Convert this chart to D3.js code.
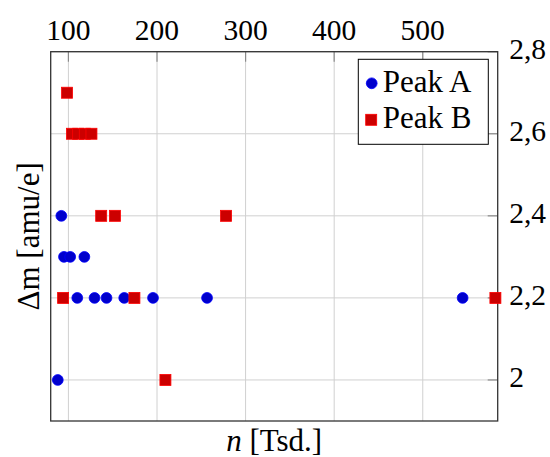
<html>
<head>
<meta charset="utf-8">
<script src="https://cdn.jsdelivr.net/npm/d3@7"></script>
</head>
<body style="margin:0">
<script>
// Peak A (blue circles) and Peak B (red squares): n [Tsd.] vs Δm [amu/e]
const peakAx = [92, 95, 102, 118, 110, 129.5, 143, 163, 195.5, 256.5, 545, 88];
const peakAy = [2.4, 2.3, 2.3, 2.3, 2.2, 2.2, 2.2, 2.2, 2.2, 2.2, 2.2, 2.0];
const peakBx = [98.5, 104, 111, 118.5, 126, 137, 152.5, 278, 94, 174.5, 582, 209.5];
const peakBy = [2.7, 2.6, 2.6, 2.6, 2.6, 2.4, 2.4, 2.4, 2.2, 2.2, 2.2, 2.0];

const xTicks = [100, 200, 300, 400, 500];
const yTicks = [2.0, 2.2, 2.4, 2.6, 2.8];
const seriesNames = ['Peak A', 'Peak B'];

const width = 550, height = 457;
const margin = { top: 51.7, right: 52.3, bottom: 36, left: 50.7 };
const innerW = width - margin.left - margin.right;
const innerH = height - margin.top - margin.bottom;

const svg = d3.select('body').append('svg')
  .attr('width', width)
  .attr('height', height);

// serif text everywhere
const label = size => sel => sel
  .style('font-family', '"Liberation Serif"')
  .style('font-size', size);

const g = svg.append('g')
  .attr('transform', `translate(${margin.left},${margin.top})`);

const x = d3.scaleLinear().domain([80, 584.6]).range([0, innerW]);
const y = d3.scaleLinear().domain([1.9, 2.8]).range([innerH, 0]);

// grid
g.append('g').selectAll('line')
  .data(xTicks)
  .join('line')
    .attr('x1', d => x(d)).attr('x2', d => x(d))
    .attr('y1', 0).attr('y2', innerH)
    .attr('stroke', '#d0d0d0').attr('stroke-width', 1);
g.append('g').selectAll('line')
  .data(yTicks)
  .join('line')
    .attr('x1', 0).attr('x2', innerW)
    .attr('y1', d => y(d)).attr('y2', d => y(d))
    .attr('stroke', '#d0d0d0').attr('stroke-width', 1);

// inward tick marks
g.append('g').selectAll('line')
  .data(xTicks)
  .join('line')
    .attr('x1', d => x(d)).attr('x2', d => x(d))
    .attr('y1', 0).attr('y2', 10)
    .attr('stroke', '#8a8a8a').attr('stroke-width', 1.2);
g.append('g').selectAll('line')
  .data(yTicks)
  .join('line')
    .attr('x1', innerW - 10).attr('x2', innerW)
    .attr('y1', d => y(d)).attr('y2', d => y(d))
    .attr('stroke', '#8a8a8a').attr('stroke-width', 1.2);

// tick labels
const fmt = d => String(d).replace('.', ',');
g.append('g').selectAll('text')
  .data(xTicks)
  .join('text')
    .attr('x', d => x(d))
    .attr('y', -12)
    .attr('text-anchor', 'middle')
    .call(label('29.5px'))
    .text(d => d);
g.append('g').selectAll('text')
  .data(yTicks)
  .join('text')
    .attr('x', innerW + 11.5)
    .attr('y', d => y(d) + 7.5)
    .call(label('29.5px'))
    .text(fmt);

// frame
g.append('rect')
  .attr('width', innerW).attr('height', innerH)
  .attr('fill', 'none')
  .attr('stroke', '#333').attr('stroke-width', 1.3);

// marks
g.append('g').selectAll('circle')
  .data(peakAx.map((v, i) => [v, peakAy[i]]))
  .join('circle')
    .attr('cx', d => x(d[0]))
    .attr('cy', d => y(d[1]))
    .attr('r', 5.4)
    .attr('fill', '#0000cc')
    .attr('stroke', '#0000ff')
    .attr('stroke-width', 0.8);

const sq = 11;
g.append('g').selectAll('rect')
  .data(peakBx.map((v, i) => [v, peakBy[i]]))
  .join('rect')
    .attr('x', d => x(d[0]) - sq / 2)
    .attr('y', d => y(d[1]) - sq / 2)
    .attr('width', sq).attr('height', sq)
    .attr('fill', '#cc0000')
    .attr('stroke', '#ff0000')
    .attr('stroke-width', 0.8);

// legend
const leg = svg.append('g').attr('transform', 'translate(358.3,59.3)');
leg.append('rect')
  .attr('width', 130).attr('height', 85)
  .attr('fill', '#fff').attr('stroke', '#000').attr('stroke-width', 1);
leg.append('circle')
  .attr('cx', 13.4).attr('cy', 24).attr('r', 5.4)
  .attr('fill', '#0000cc').attr('stroke', '#0000ff').attr('stroke-width', 0.8);
leg.append('rect')
  .attr('x', 7.4).attr('y', 55).attr('width', 11).attr('height', 11)
  .attr('fill', '#cc0000').attr('stroke', '#ff0000').attr('stroke-width', 0.8);
leg.selectAll('text')
  .data(seriesNames)
  .join('text')
    .attr('x', 24.4)
    .attr('y', (d, i) => 32.4 + i * 36.6)
    .call(label('31px'))
    .text(d => d);

// axis labels
svg.append('text')
  .attr('transform', `translate(39,${margin.top + innerH / 2}) rotate(-90)`)
  .attr('text-anchor', 'middle')
  .call(label('31px'))
  .text('Δm [amu/e]');

const xl = svg.append('text')
  .attr('x', margin.left + innerW / 2)
  .attr('y', 451)
  .attr('text-anchor', 'middle')
  .call(label('31px'));
xl.append('tspan').style('font-style', 'italic').text('n');
xl.append('tspan').text(' [Tsd.]');
</script>
</body>
</html>
